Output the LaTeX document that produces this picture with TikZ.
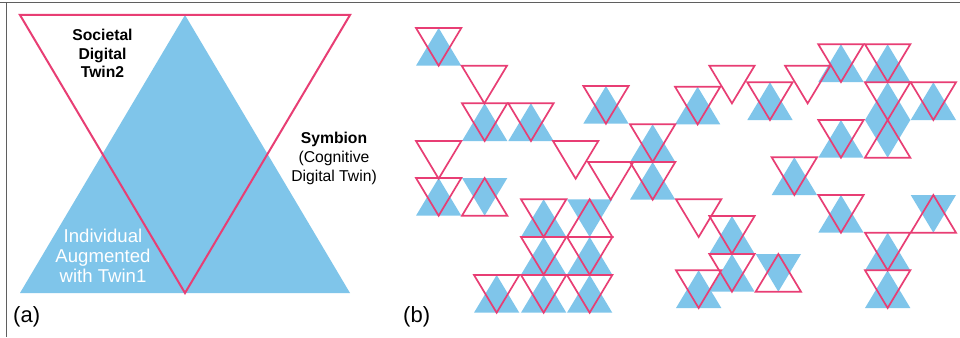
\documentclass[tikz,border=0pt]{standalone}
\usepackage{fontspec}
\setmainfont{Liberation Sans}
\definecolor{tblue}{RGB}{127,197,234}
\definecolor{tpink}{RGB}{232,62,116}
\definecolor{frame}{RGB}{95,95,95}
\begin{document}
\begin{tikzpicture}[x=1pt,y=-1pt,
  bluetri/.style={fill=tblue},
  pinktri/.style={draw=tpink,line width=1.7pt,line join=miter},
  bigpink/.style={draw=tpink,line width=2pt,line join=miter},
  framerule/.style={draw=frame,line width=1.2pt},
  lbl/.style={inner sep=0pt,anchor=base},
  boldlbl/.style={lbl,font=\fontsize{15.7}{18}\selectfont\bfseries,text=black},
  reglbl/.style={lbl,font=\fontsize{15.7}{18}\selectfont,text=black},
  whitelbl/.style={lbl,font=\fontsize{18.6}{20}\selectfont,text=white},
  panellbl/.style={inner sep=0pt,anchor=base west,font=\fontsize{22}{24}\selectfont,text=black}]
\useasboundingbox (0,0) rectangle (960,337);
\fill[white] (0,0) rectangle (960,337);
% frame
\draw[framerule] (0,2.2) -- (960,2.2);
\draw[framerule] (6.5,2.2) -- (6.5,337);
% ---------- panel (a)
\fill[bluetri] (185,15) -- (20,293) -- (350,293) -- cycle;
\draw[bigpink] (20,15) -- (350,15) -- (185,293) -- cycle;
\node[boldlbl] (socA) at (102.5,40.7) {Societal};
\node[boldlbl] (socB) at (102.5,59.3) {Digital};
\node[boldlbl] (socC) at (102.5,77.7) {Twin2};
\node[boldlbl] (symA) at (334,143.3) {Symbion};
\node[reglbl] (symB) at (334,162.3) {(Cognitive};
\node[reglbl] (symC) at (334,181) {Digital Twin)};
\node[whitelbl] (indA) at (103,242.7) {Individual};
\node[whitelbl] (indB) at (103,262.7) {Augmented};
\node[whitelbl] (indC) at (103,282.7) {with Twin1};
\node[panellbl] (labA) at (13,322.5) {(a)};
% ---------- panel (b)
\def\cw{45.3}
\def\ch{37.7}
% type A: blue upright + pink inverted
\def\listA{416/28,462/103.3,508.3/103.3,583.3/86,630/124.3,630/162,675/86.7,747.3/82.3,818.3/44.3,865/44.3,865/82.3,910.7/82.3,818.3/120,771.7/157.3,416/178,521/199.3,521/237,567/237,474/275,521/275,567/275,709.3/216,709.3/254,676/270.3,818.3/195,865/232.7,865/270.3}
% type B: pink inverted only
\def\listB{461.7/65.7,416/141,553/141,588/162,709.3/65.7,785/65.7,676/199.3}
% type C: blue inverted + pink upright
\def\listC{462/178,567/199.3,865/120,755.7/254,910.7/195}
\foreach \x/\y in \listA
  \fill[bluetri] (\x,\y+\ch) -- (\x+\cw/2,\y) -- (\x+\cw,\y+\ch) -- cycle;
\foreach \x/\y in \listC
  \fill[bluetri] (\x,\y) -- (\x+\cw,\y) -- (\x+\cw/2,\y+\ch) -- cycle;
\foreach \x/\y in \listA
  \draw[pinktri] (\x,\y) -- (\x+\cw,\y) -- (\x+\cw/2,\y+\ch) -- cycle;
\foreach \x/\y in \listB
  \draw[pinktri] (\x,\y) -- (\x+\cw,\y) -- (\x+\cw/2,\y+\ch) -- cycle;
\foreach \x/\y in \listC
  \draw[pinktri] (\x,\y+\ch) -- (\x+\cw/2,\y) -- (\x+\cw,\y+\ch) -- cycle;
\node[panellbl] (labB) at (403,322) {(b)};
\end{tikzpicture}
\end{document}
